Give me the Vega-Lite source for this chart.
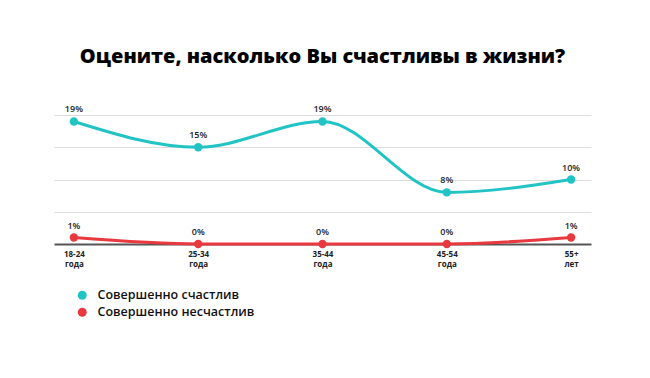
{
  "$schema": "https://vega.github.io/schema/vega-lite/v6.json",
  "autosize": "none",
  "width": 537,
  "height": 129,
  "padding": {"left": 54, "top": 115, "right": 59, "bottom": 134},
  "background": "white",
  "title": {
    "text": "Оцените, насколько Вы счастливы в жизни?",
    "anchor": "middle",
    "font": "Open Sans",
    "fontSize": 20,
    "fontWeight": 800,
    "color": "#000000",
    "offset": 38
  },
  "config": {"view": {"stroke": null}},
  "data": {
    "values": [
      {"age": "18-24 года", "series": "Совершенно счастлив", "value": 19},
      {"age": "25-34 года", "series": "Совершенно счастлив", "value": 15},
      {"age": "35-44 года", "series": "Совершенно счастлив", "value": 19},
      {"age": "45-54 года", "series": "Совершенно счастлив", "value": 8},
      {"age": "55+ лет", "series": "Совершенно счастлив", "value": 10},
      {"age": "18-24 года", "series": "Совершенно несчастлив", "value": 1},
      {"age": "25-34 года", "series": "Совершенно несчастлив", "value": 0},
      {"age": "35-44 года", "series": "Совершенно несчастлив", "value": 0},
      {"age": "45-54 года", "series": "Совершенно несчастлив", "value": 0},
      {"age": "55+ лет", "series": "Совершенно несчастлив", "value": 1}
    ]
  },
  "encoding": {
    "x": {
      "field": "age",
      "type": "ordinal",
      "sort": null,
      "scale": {"type": "point", "padding": 0.16},
      "axis": {
        "title": null,
        "labelAngle": 0,
        "labelExpr": "split(datum.label, ' ')",
        "labelFont": "Open Sans",
        "labelFontSize": 8,
        "labelFontWeight": 700,
        "labelColor": "#222222",
        "labelLineHeight": 10,
        "labelPadding": 6,
        "ticks": false,
        "domainColor": "#555555",
        "domainWidth": 2,
        "grid": false
      }
    },
    "y": {
      "field": "value",
      "type": "quantitative",
      "scale": {"domain": [0, 20]},
      "axis": {
        "title": null,
        "labels": false,
        "ticks": false,
        "domain": false,
        "values": [5, 10, 15, 20],
        "gridColor": "#dddddd",
        "gridWidth": 1
      }
    },
    "color": {
      "field": "series",
      "type": "nominal",
      "sort": ["Совершенно счастлив", "Совершенно несчастлив"],
      "scale": {
        "domain": ["Совершенно счастлив", "Совершенно несчастлив"],
        "range": ["#22C3C5", "#E8393F"]
      },
      "legend": {
        "title": null,
        "orient": "none",
        "legendX": 22,
        "legendY": 174,
        "symbolType": "circle",
        "symbolSize": 80,
        "symbolStrokeWidth": 0,
        "labelFont": "Open Sans",
        "labelFontSize": 12.5,
        "labelFontWeight": 600,
        "labelColor": "#111111",
        "rowPadding": 4,
        "labelOffset": 9
      }
    }
  },
  "layer": [
    {
      "mark": {"type": "line", "interpolate": "monotone", "strokeWidth": 3}
    },
    {
      "mark": {"type": "point", "filled": true, "size": 70, "opacity": 1}
    },
    {
      "transform": [{"calculate": "datum.value + '%'", "as": "label"}],
      "mark": {"type": "text", "dy": -12, "font": "Open Sans", "fontSize": 9, "fontWeight": 600},
      "encoding": {
        "text": {"field": "label", "type": "nominal"},
        "color": {"value": "#222222"}
      }
    }
  ]
}
